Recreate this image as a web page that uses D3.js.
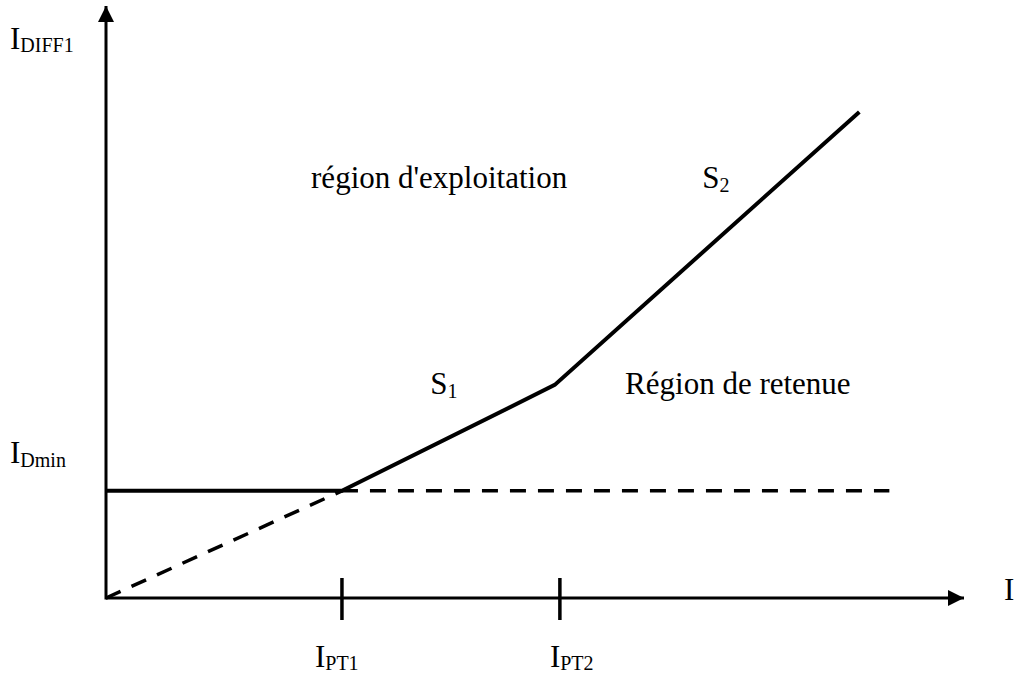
<!DOCTYPE html>
<html>
<head>
<meta charset="utf-8">
<script src="https://cdn.jsdelivr.net/npm/d3@7"></script>
<style>
	body { margin: 0; background: #fff; }
	svg { display: block; }
	svg text, svg tspan { font-family: "Liberation Serif", "Times New Roman", Times, "DejaVu Serif", serif; }
</style>
</head>
<body>
<div id="chart"></div>
<script>
// characteristic points (arbitrary units, 0..100 on both axes)
var iDmin = 18.1;
var breakPoints = [27.5, 52.9];          // I_PT1, I_PT2
var solidLine = [
	{x: 0, y: 18.1},
	{x: 27.5, y: 18.1},
	{x: 52.3, y: 36.0},
	{x: 87.8, y: 82.1}
];
var dashedLines = [
	[{x: 0, y: 0}, {x: 27.5, y: 18.1}],
	[{x: 27.5, y: 18.1}, {x: 91.3, y: 18.1}]
];
var tickLabels = [
	{main: "I", sub: "PT1"},
	{main: "I", sub: "PT2"}
];
var regionLabels = [
	{text: "région d'exploitation", x: 23.9, y: 69.3},
	{text: "Région de retenue", x: 60.5, y: 34.5}
];
var slopeLabels = [
	{sub: "1", x: 37.8, y: 34.5},
	{sub: "2", x: 69.5, y: 69.3}
];

var width = 1016, height = 677;
var ox = 106, oy = 598;
var labelShift = [-27, -10];   // tick label offsets from the tick, px

var x = d3.scaleLinear().domain([0, 100]).range([ox, 964]);
var y = d3.scaleLinear().domain([0, 100]).range([oy, 6]);

var svg = d3.select("#chart")
	.append("svg")
	.attr("width", width)
	.attr("height", height);

var defs = svg.append("defs");
defs.append("marker")
	.attr("id", "arrow")
	.attr("viewBox", "0 0 10 10")
	.attr("refX", 10)
	.attr("refY", 5)
	.attr("markerUnits", "userSpaceOnUse")
	.attr("markerWidth", 16)
	.attr("markerHeight", 16)
	.attr("orient", "auto")
	.append("path")
	.attr("d", "M0,0L10,5L0,10Z")
	.attr("fill", "#000");

// axes
svg.append("line")
	.attr("x1", x(0)).attr("y1", y(0))
	.attr("x2", x(100)).attr("y2", y(0))
	.attr("stroke", "#000").attr("stroke-width", 3)
	.attr("marker-end", "url(#arrow)");
svg.append("line")
	.attr("x1", x(0)).attr("y1", y(0) + 1.5)
	.attr("x2", x(0)).attr("y2", y(100))
	.attr("stroke", "#000").attr("stroke-width", 3)
	.attr("marker-end", "url(#arrow)");

// ticks on x axis
svg.selectAll(".tick")
	.data(breakPoints)
	.enter().append("line")
	.attr("class", "tick")
	.attr("x1", function (d) { return x(d); })
	.attr("x2", function (d) { return x(d); })
	.attr("y1", oy - 20)
	.attr("y2", oy + 22)
	.attr("stroke", "#000")
	.attr("stroke-width", 3.5);

var line = d3.line()
	.x(function (d) { return x(d.x); })
	.y(function (d) { return y(d.y); });

svg.selectAll(".dash")
	.data(dashedLines)
	.enter().append("path")
	.attr("class", "dash")
	.attr("d", line)
	.attr("fill", "none")
	.attr("stroke", "#000")
	.attr("stroke-width", 3.5)
	.attr("stroke-dasharray", "16,12");

svg.append("path")
	.attr("d", line(solidLine))
	.attr("fill", "none")
	.attr("stroke", "#000")
	.attr("stroke-width", 4)
	.attr("stroke-linejoin", "miter");

function subLabel(sel, main, sub, fs, dy) {
	sel.append("tspan").text(main).style("font-size", fs + "px");
	if (sub) sel.append("tspan").text(sub).attr("dy", dy).style("font-size", Math.round(fs * 0.66) + "px");
}

// axis titles
subLabel(svg.append("text").attr("x", 10).attr("y", 49), "I", "DIFF1", 31, 3);
subLabel(svg.append("text").attr("x", 10).attr("y", 463), "I", "Dmin", 31, 4);
subLabel(svg.append("text").attr("x", 1004).attr("y", 600), "I", null, 31, 0);

// tick labels
tickLabels.forEach(function (t, i) {
	subLabel(svg.append("text")
		.attr("x", x(breakPoints[i]) + labelShift[i])
		.attr("y", 667), t.main, t.sub, 31, 3);
});

// region labels
svg.selectAll(".region")
	.data(regionLabels)
	.enter().append("text")
	.attr("class", "region")
	.attr("x", function (d) { return x(d.x); })
	.attr("y", function (d) { return y(d.y); })
	.style("font-size", "31px")
	.text(function (d) { return d.text; });

slopeLabels.forEach(function (s) {
	subLabel(svg.append("text").attr("x", x(s.x)).attr("y", y(s.y)), "S", s.sub, 31, 4);
});
</script>
</body>
</html>
